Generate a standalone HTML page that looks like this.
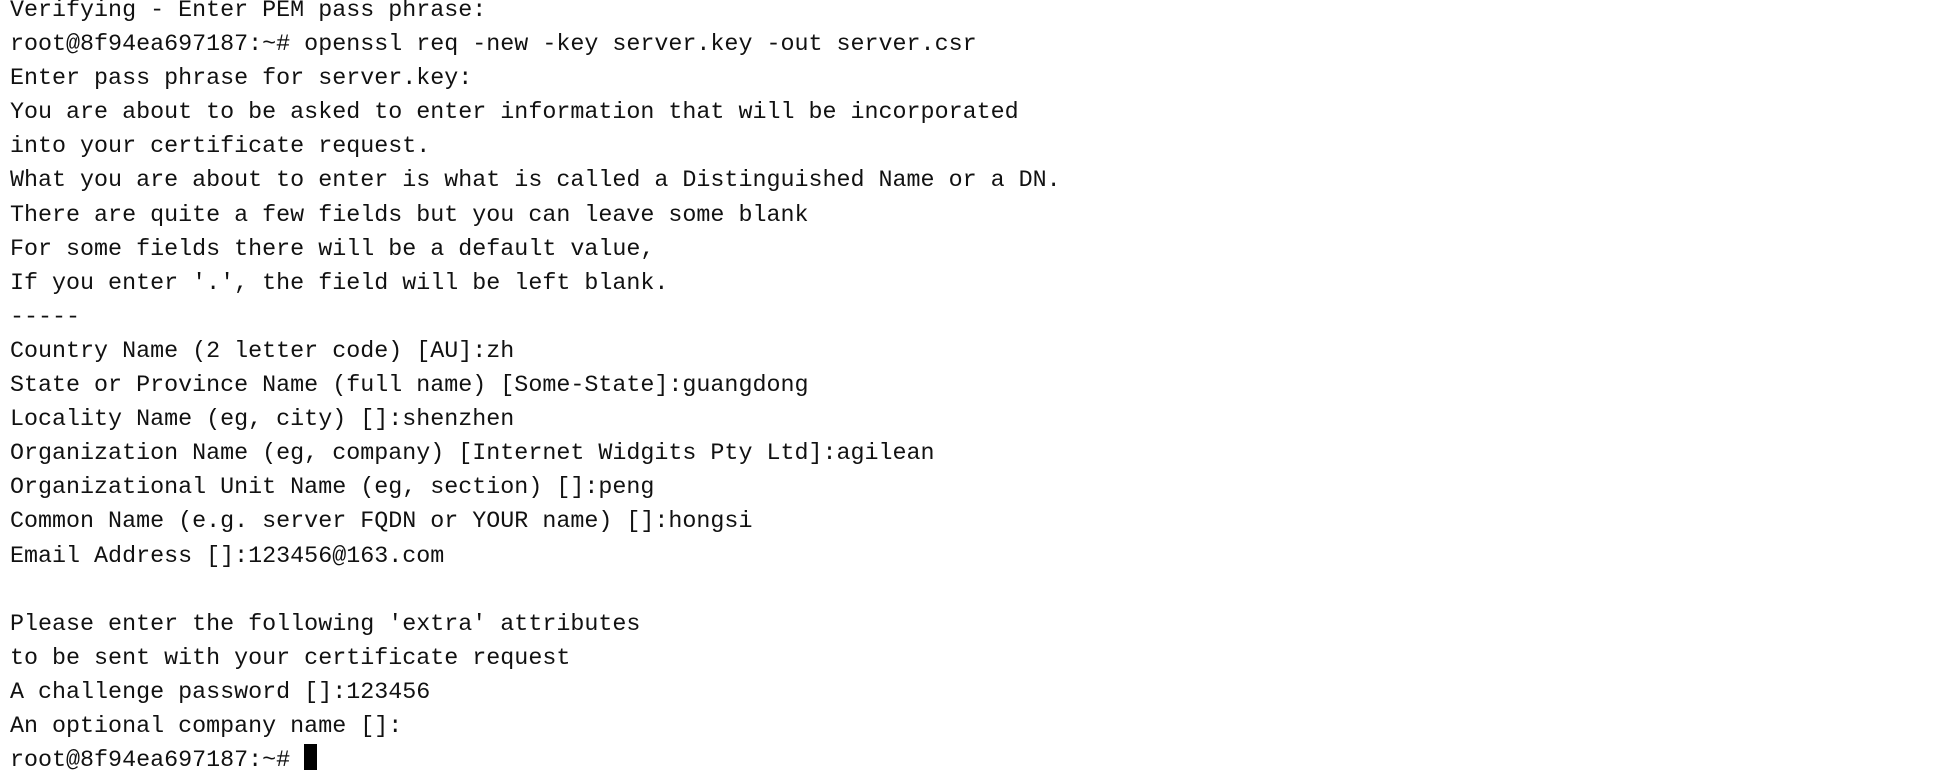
<!DOCTYPE html>
<html><head><meta charset="utf-8"><style>
html,body{margin:0;padding:0;background:#fff;width:1938px;height:752px;overflow:hidden}
pre{margin:0;position:absolute;left:10px;top:-6px;font-family:"Liberation Mono",monospace;font-size:23.35px;line-height:34.1px;color:#111;white-space:pre}
.cur{display:inline-block;width:13px;height:26px;background:#000;vertical-align:-4px}
</style></head><body><pre>Verifying - Enter PEM pass phrase:
root@8f94ea697187:~# openssl req -new -key server.key -out server.csr
Enter pass phrase for server.key:
You are about to be asked to enter information that will be incorporated
into your certificate request.
What you are about to enter is what is called a Distinguished Name or a DN.
There are quite a few fields but you can leave some blank
For some fields there will be a default value,
If you enter '.', the field will be left blank.
-----
Country Name (2 letter code) [AU]:zh
State or Province Name (full name) [Some-State]:guangdong
Locality Name (eg, city) []:shenzhen
Organization Name (eg, company) [Internet Widgits Pty Ltd]:agilean
Organizational Unit Name (eg, section) []:peng
Common Name (e.g. server FQDN or YOUR name) []:hongsi
Email Address []:123456@163.com

Please enter the following 'extra' attributes
to be sent with your certificate request
A challenge password []:123456
An optional company name []:
root@8f94ea697187:~# <span class="cur"></span></pre></body></html>
